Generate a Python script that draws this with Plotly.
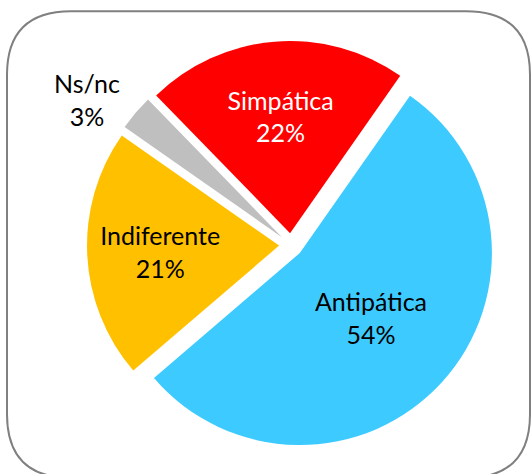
import plotly.graph_objects as go

labels = ["Antipática", "Indiferente", "Ns/nc", "Simpática"]
values = [54, 21, 3, 22]
colors = ["#3DCBFF", "#FFC000", "#BFBFBF", "#FF0000"]
text_colors = ["black", "black", "black", "white"]
positions = ["inside", "inside", "outside", "inside"]

W, H = 531, 474
L, R, T, B = 86, 35, 41, 23
pw, ph = W - L - R, H - T - B

def px(x):
    return (x - L) / pw

def py(y):
    return 1 - (y - T) / ph

# rounded frame (pixel coords converted to paper)
x0, y0, x1, y1, r = 7, 11, 530, 480, 64
pts = [
    ("M", x0 + r, y0), ("L", x1 - r, y0), ("Q", x1, y0, x1, y0 + r),
    ("L", x1, y1 - r), ("Q", x1, y1, x1 - r, y1), ("L", x0 + r, y1),
    ("Q", x0, y1, x0, y1 - r), ("L", x0, y0 + r), ("Q", x0, y0, x0 + r, y0),
]
path = ""
for p in pts:
    cmd = p[0]
    coords = p[1:]
    s = []
    for i in range(0, len(coords), 2):
        s.append(f"{px(coords[i]):.5f},{py(coords[i+1]):.5f}")
    path += cmd + " ".join(s) + " "
path += "Z"

fig = go.Figure(go.Pie(
    labels=labels,
    values=values,
    sort=False,
    direction="clockwise",
    rotation=35,
    pull=0.062,
    marker=dict(colors=colors, line=dict(width=0)),
    texttemplate="%{label}<br>%{percent:.0%}",
    textposition=positions,
    insidetextorientation="horizontal",
    textfont=dict(family="Lato", size=25, color=text_colors),
    hoverinfo="label+percent",
    showlegend=False,
))

fig.update_layout(
    width=W, height=H,
    margin=dict(l=L, r=R, t=T, b=B),
    paper_bgcolor="white",
    plot_bgcolor="white",
    shapes=[dict(type="path", xref="paper", yref="paper", path=path,
                 line=dict(color="#808080", width=2), layer="below")],
)

fig.write_html(
    "out.html",
    config={"displayModeBar": False},
    post_script="document.body.style.margin='0';document.body.style.overflow='hidden';",
)
